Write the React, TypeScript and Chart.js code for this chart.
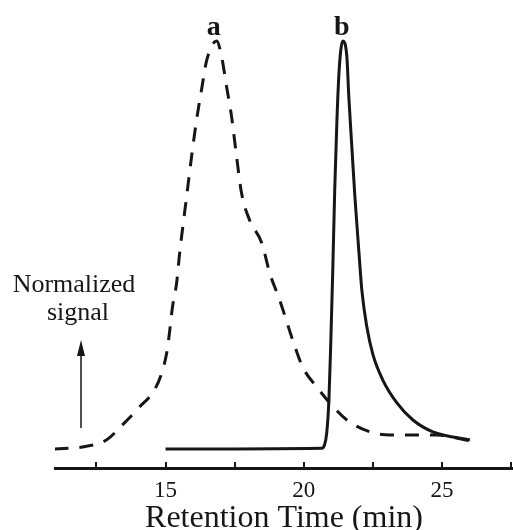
import React, { useEffect, useRef } from "react";
import { Chart, registerables } from "chart.js";

Chart.register(...registerables);

// Curve a (dashed): retention time (min) vs normalized signal
const aTime = [10.98, 11.99, 12.86, 13.44, 14.06, 14.6, 14.86, 15.04, 15.14, 15.25, 15.4, 15.51, 15.76, 15.94, 16.12, 16.3, 16.49, 16.85, 17.03, 17.21, 17.39, 17.57, 17.75, 18.04, 18.48, 18.77, 19.13, 19.6, 19.96, 20.47, 20.94, 21.56, 22.39, 23.12, 23.95, 24.82, 26.01];
const aSignal = [0, 0.005, 0.022, 0.059, 0.103, 0.145, 0.186, 0.235, 0.284, 0.348, 0.407, 0.48, 0.618, 0.716, 0.806, 0.88, 0.953, 1.0, 0.961, 0.887, 0.814, 0.716, 0.627, 0.561, 0.505, 0.431, 0.365, 0.267, 0.201, 0.152, 0.113, 0.071, 0.042, 0.034, 0.034, 0.034, 0.02];

// Curve b (solid)
const bTime = [15.0, 20.65, 20.74, 20.83, 20.91, 20.98, 21.05, 21.12, 21.2, 21.27, 21.34, 21.41, 21.56, 21.63, 21.74, 21.85, 21.99, 22.1, 22.28, 22.5, 22.86, 23.37, 23.95, 24.67, 26.01];
const bSignal = [0, 0.002, 0.008, 0.039, 0.12, 0.267, 0.439, 0.635, 0.806, 0.917, 0.978, 1.0, 0.961, 0.863, 0.74, 0.618, 0.488, 0.39, 0.3, 0.232, 0.169, 0.113, 0.071, 0.042, 0.022];

const seriesLabels = ["a", "b"];
const xTickValues = [12.5, 15, 17.5, 20, 22.5, 25, 27.5];
const xTickLabels = ["", "15", "", "20", "", "25", ""];
const xTitle = "Retention Time (min)";
const yNote = ["Normalized", "signal"];

const INK = "#161616";
const SERIF = "'Liberation Serif', 'Times New Roman', serif";

const annotPlugin = {
  id: "annot",
  afterDraw(chart: any) {
    const { ctx, scales } = chart;
    const xs = scales.x;
    const ys = scales.y;
    const bottom = chart.chartArea.bottom;
    ctx.save();
    // upward tick marks
    ctx.strokeStyle = INK;
    ctx.lineWidth = 2;
    xTickValues.forEach((v) => {
      const px = Math.round(xs.getPixelForValue(v));
      ctx.beginPath();
      ctx.moveTo(px, bottom);
      ctx.lineTo(px, bottom - 6);
      ctx.stroke();
    });
    // peak labels
    ctx.fillStyle = INK;
    ctx.font = `bold 28px ${SERIF}`;
    ctx.textAlign = "center";
    ctx.textBaseline = "alphabetic";
    chart.data.datasets.forEach((ds: any, i: number) => {
      let best = ds.data[0];
      ds.data.forEach((p: any) => {
        if (p.y > best.y) best = p;
      });
      const px = xs.getPixelForValue(best.x);
      const py = ys.getPixelForValue(best.y);
      ctx.fillText(seriesLabels[i], px + (i === 0 ? -3 : -1), py - 6);
    });
    // normalized signal note
    ctx.font = `26px ${SERIF}`;
    ctx.fillText(yNote[0], 74, 292);
    ctx.fillText(yNote[1], 78, 320);
    // arrow
    ctx.lineWidth = 1.5;
    ctx.beginPath();
    ctx.moveTo(81, 428);
    ctx.lineTo(81, 350);
    ctx.stroke();
    ctx.beginPath();
    ctx.moveTo(81, 340);
    ctx.lineTo(77, 356);
    ctx.lineTo(85, 356);
    ctx.closePath();
    ctx.fill();
    ctx.restore();
  },
};

export default function App() {
  const ref = useRef<HTMLCanvasElement | null>(null);
  useEffect(() => {
    if (!ref.current) return;
    const chart = new Chart(ref.current, {
      type: "line",
      data: {
        datasets: [
          {
            label: seriesLabels[0],
            data: aTime.map((t, i) => ({ x: t, y: aSignal[i] })),
            borderColor: INK,
            borderWidth: 3,
            borderDash: [14, 11],
            pointRadius: 0,
            cubicInterpolationMode: "monotone",
            fill: false,
          },
          {
            label: seriesLabels[1],
            data: bTime.map((t, i) => ({ x: t, y: bSignal[i] })),
            borderColor: INK,
            borderWidth: 3,
            pointRadius: 0,
            cubicInterpolationMode: "monotone",
            fill: false,
          },
        ],
      },
      options: {
        animation: false,
        responsive: false,
        maintainAspectRatio: false,
        layout: { padding: { left: 55, right: 0, top: 0, bottom: 0 } },
        plugins: {
          legend: { display: false },
          tooltip: { enabled: false },
        },
        scales: {
          x: {
            type: "linear",
            min: 11,
            max: 27.57,
            grid: { display: false, drawTicks: false },
            border: { display: true, color: INK, width: 3 },
            afterBuildTicks: (scale: any) => {
              scale.ticks = xTickValues.map((v) => ({ value: v }));
            },
            afterFit: (scale: any) => {
              scale.height = 62;
              scale.paddingLeft = 0;
              scale.paddingRight = 0;
            },
            ticks: {
              autoSkip: false,
              maxRotation: 0,
              padding: 9,
              color: INK,
              font: { family: SERIF, size: 23 },
              callback: (v: any) => {
                const idx = xTickValues.indexOf(Number(v));
                return idx >= 0 ? xTickLabels[idx] : "";
              },
            },
            title: {
              display: true,
              text: xTitle,
              color: INK,
              font: { family: SERIF, size: 32, lineHeight: 0.7 },
              padding: { top: 0, bottom: 0 },
            },
          },
          y: {
            type: "linear",
            display: false,
            min: -0.0466,
            max: 1.1005,
          },
        },
      },
      plugins: [annotPlugin],
    });
    return () => chart.destroy();
  }, []);
  return (
    <div style={{ position: "fixed", left: 0, top: 0, width: 513, height: 530, background: "#fff" }}>
      <canvas ref={ref} width={513} height={530} style={{ display: "block" }} />
    </div>
  );
}
